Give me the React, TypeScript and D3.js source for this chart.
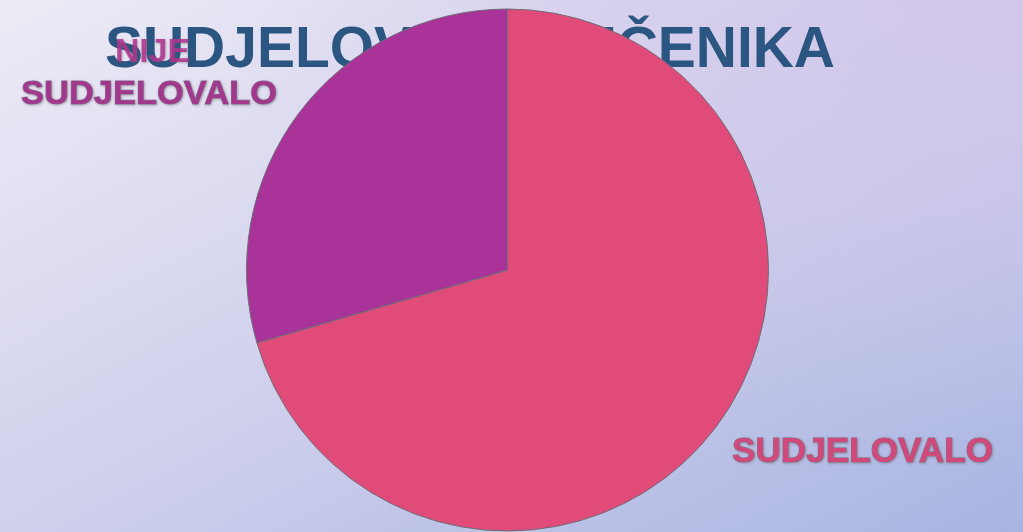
import React from "react";
import * as d3 from "d3";

const categories = ["SUDJELOVALO", "NIJE SUDJELOVALO"];
const values = [43, 18];
const colors = ["#e14b79", "#a93399"];
const title = "SUDJELOVANJE UČENIKA";

export default function App() {
  const W = 1023, H = 532;
  const cx = 507.5, cy = 270, r = 261;
  const pie = d3.pie<number>().sort(null).startAngle(0).endAngle(2 * Math.PI);
  const arcs = pie(values);
  const arc = d3.arc<d3.PieArcDatum<number>>().innerRadius(0).outerRadius(r);
  const font = "'Liberation Sans', Arial, sans-serif";
  return (
    <svg width={W} height={H} style={{ position: "absolute", left: 0, top: 0, display: "block" }}>
      <defs>
        <linearGradient id="bg" x1="0" y1="0" x2="1" y2="1">
          <stop offset="0" stopColor="#eeebf6" />
          <stop offset="0.5" stopColor="#cfd0ec" />
          <stop offset="1" stopColor="#a8b4e2" />
        </linearGradient>
        <radialGradient id="tr" cx="1" cy="0" r="0.8">
          <stop offset="0" stopColor="#d2c6ea" stopOpacity="0.9" />
          <stop offset="1" stopColor="#d2c6ea" stopOpacity="0" />
        </radialGradient>
        <filter id="sh" x="-10%" y="-20%" width="120%" height="140%">
          <feDropShadow dx="0.8" dy="0.8" stdDeviation="0.8" floodColor="#555" floodOpacity="0.5" />
        </filter>
      </defs>
      <rect width={W} height={H} fill="url(#bg)" />
      <rect width={W} height={H} fill="url(#tr)" />
      <text x={105} y={67} fontFamily={font} fontWeight="bold" fontSize={58}
        fill="#2a5681" textLength={730} lengthAdjust="spacingAndGlyphs">{title}</text>
      <g transform={`translate(${cx},${cy})`}>
        {arcs.map((a, i) => (
          <path key={categories[i]} d={arc(a) || ""} fill={colors[i]} stroke="#6e6e78" strokeWidth={1} />
        ))}
      </g>
      <g fontFamily={font} fontWeight="bold" filter="url(#sh)">
        <text x={115} y={62} fontSize={33} fill="#b0338f" fillOpacity={0.85}
          textLength={75} lengthAdjust="spacingAndGlyphs">NIJE</text>
        <text x={21} y={104} fontSize={34} fill="#a2388c" stroke="#857090" strokeWidth={1}
          paintOrder="stroke" textLength={256} lengthAdjust="spacingAndGlyphs">SUDJELOVALO</text>
        <text x={732} y={462} fontSize={35} fill="#d0487a" stroke="#857080" strokeWidth={1}
          paintOrder="stroke" textLength={261} lengthAdjust="spacingAndGlyphs">{categories[0]}</text>
      </g>
    </svg>
  );
}
